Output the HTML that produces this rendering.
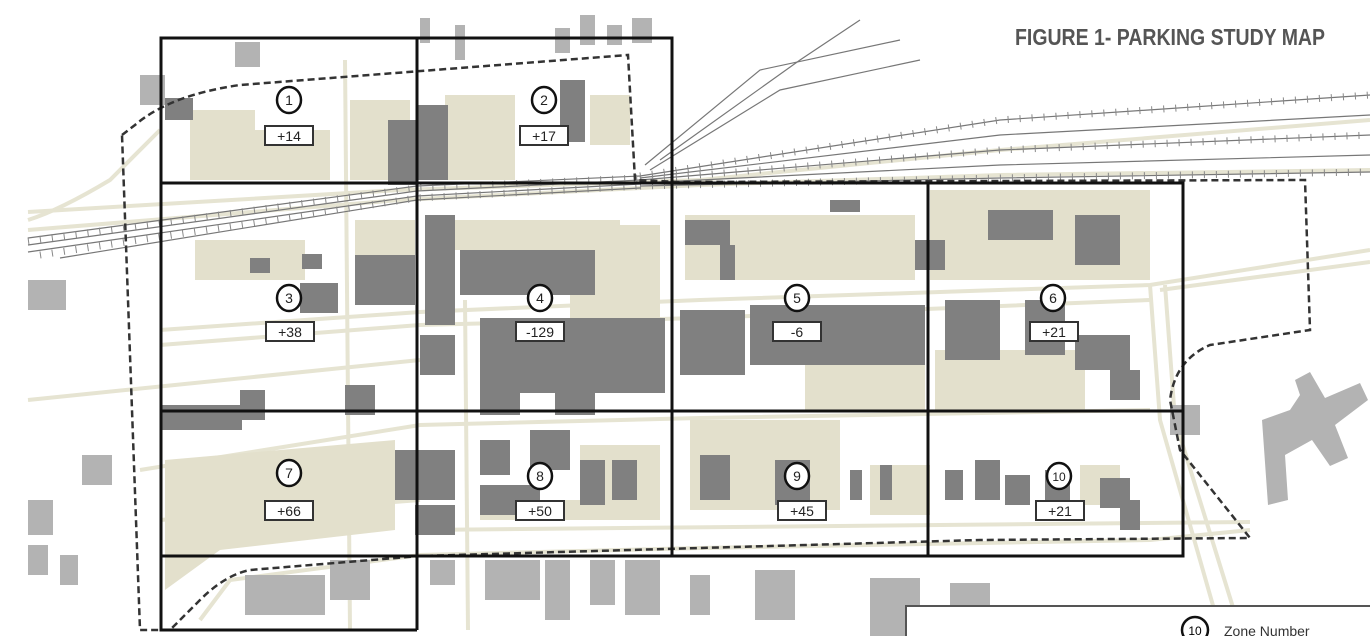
<!DOCTYPE html>
<html><head><meta charset="utf-8"><style>
html,body{margin:0;padding:0;background:#fff;width:1370px;height:636px;overflow:hidden}
svg{display:block}
text{font-family:"Liberation Sans",sans-serif}
</style></head><body>
<svg width="1370" height="636" viewBox="0 0 1370 636" xmlns="http://www.w3.org/2000/svg">
<rect width="1370" height="636" fill="#fff"/>
<!-- roads -->
<g stroke="#e6e4d2" stroke-width="4" fill="none">
<path d="M28 212 L400 190 L700 180 L1000 150 L1370 120"/>
<path d="M28 230 L400 200 L700 185 L1000 175 L1370 170"/>
<path d="M160 330 L420 312 L700 300 L1150 285 L1370 250"/>
<path d="M160 345 L420 325 L700 318 L1150 300"/>
<path d="M28 400 L420 360"/>
<path d="M140 470 L420 425 L700 418 L1150 410"/>
<path d="M160 520 L420 500"/>
<path d="M200 620 L230 580 L420 555 L700 548 L1150 540 L1250 530"/>
<path d="M420 530 L1250 522"/>
<path d="M1150 285 L1160 420 L1220 630"/>
<path d="M1165 285 L1175 420 L1240 630"/>
<path d="M345 60 L350 630"/>
<path d="M465 300 L468 630"/>
<path d="M1160 290 L1370 262"/>
<path d="M28 220 Q60 210 110 180 Q140 150 160 130"/>
</g>
<!-- rail lines -->
<g stroke="#777" stroke-width="1.2" fill="none">
<path d="M28 238 L417 186 L640 176"/>
<path d="M28 245 L417 191 L640 180"/>
<path d="M28 252 L417 196 L640 184"/>
<path d="M60 258 L417 200 L640 188"/>
<path d="M640 176 L1000 120 L1370 95"/>
<path d="M640 178 L1000 135 L1370 115"/>
<path d="M640 180 L1000 150 L1370 135"/>
<path d="M640 183 L1000 165 L1370 155"/>
<path d="M640 186 L1000 178 L1370 172"/>
<path d="M645 165 L760 70 L900 40"/>
<path d="M650 170 L780 90 L920 60"/>
<path d="M660 160 L800 60 L860 20"/>
</g>
<g stroke="#888" stroke-width="7" stroke-dasharray="1 11" fill="none">
<path d="M28 241 L417 188 L640 178"/>
<path d="M40 255 L417 198 L640 186"/>
<path d="M640 176 L1000 120 L1370 95"/>
<path d="M640 180 L1000 150 L1370 135"/>
<path d="M640 186 L1000 178 L1370 172"/>
</g>
<!-- beige lots -->
<g fill="#e3e0cc">
<rect x="190" y="110" width="65" height="70"/><rect x="255" y="130" width="75" height="50"/>
<rect x="350" y="100" width="60" height="80"/><rect x="445" y="95" width="70" height="85"/>
<rect x="590" y="95" width="40" height="50"/>
<rect x="195" y="240" width="110" height="40"/><rect x="355" y="220" width="60" height="60"/>
<rect x="455" y="220" width="165" height="30"/><rect x="570" y="225" width="90" height="95"/>
<rect x="685" y="215" width="230" height="65"/><rect x="805" y="360" width="120" height="50"/>
<rect x="930" y="190" width="220" height="90"/><rect x="935" y="350" width="150" height="60"/>
<path d="M165 460 L395 440 L395 530 L220 550 L165 590 Z"/>
<rect x="580" y="445" width="80" height="75"/><rect x="480" y="500" width="170" height="20"/>
<rect x="690" y="420" width="150" height="90"/><rect x="870" y="465" width="60" height="50"/>
<rect x="1080" y="465" width="40" height="40"/><rect x="505" y="345" width="40" height="45"/>
</g>
<!-- dark buildings -->
<g fill="#808080">
<rect x="165" y="98" width="28" height="22"/><rect x="388" y="120" width="30" height="65"/>
<rect x="418" y="105" width="30" height="75"/><rect x="560" y="80" width="25" height="62"/>
<rect x="250" y="258" width="20" height="15"/><rect x="302" y="254" width="20" height="15"/>
<rect x="300" y="283" width="38" height="30"/><rect x="355" y="255" width="60" height="50"/>
<rect x="425" y="215" width="30" height="110"/><rect x="460" y="250" width="135" height="45"/>
<rect x="480" y="318" width="185" height="75"/><rect x="480" y="390" width="40" height="25"/>
<rect x="555" y="390" width="40" height="25"/><rect x="420" y="335" width="35" height="40"/>
<rect x="685" y="220" width="45" height="25"/><rect x="720" y="245" width="15" height="35"/>
<rect x="830" y="200" width="30" height="12"/><rect x="915" y="240" width="30" height="30"/>
<rect x="680" y="310" width="65" height="65"/><rect x="750" y="305" width="175" height="60"/>
<rect x="988" y="210" width="65" height="30"/><rect x="1075" y="215" width="45" height="50"/>
<rect x="945" y="300" width="55" height="60"/><rect x="1025" y="300" width="40" height="55"/>
<rect x="1075" y="335" width="55" height="35"/><rect x="1110" y="370" width="30" height="30"/>
<rect x="162" y="405" width="80" height="25"/><rect x="240" y="390" width="25" height="30"/>
<rect x="345" y="385" width="30" height="30"/><rect x="395" y="450" width="60" height="50"/>
<rect x="415" y="505" width="40" height="30"/><rect x="480" y="440" width="30" height="35"/>
<rect x="530" y="430" width="40" height="40"/><rect x="480" y="485" width="60" height="30"/>
<rect x="580" y="460" width="25" height="45"/><rect x="612" y="460" width="25" height="40"/>
<rect x="700" y="455" width="30" height="45"/><rect x="775" y="460" width="35" height="45"/>
<rect x="850" y="470" width="12" height="30"/><rect x="880" y="465" width="12" height="35"/>
<rect x="945" y="470" width="18" height="30"/><rect x="975" y="460" width="25" height="40"/>
<rect x="1005" y="475" width="25" height="30"/><rect x="1045" y="470" width="25" height="30"/>
<rect x="1100" y="478" width="30" height="30"/><rect x="1120" y="500" width="20" height="30"/>
</g>
<!-- light gray buildings -->
<g fill="#b3b3b3">
<rect x="140" y="75" width="25" height="30"/><rect x="235" y="42" width="25" height="25"/>
<rect x="420" y="18" width="10" height="25"/><rect x="455" y="25" width="10" height="35"/>
<rect x="555" y="28" width="15" height="25"/><rect x="580" y="15" width="15" height="30"/>
<rect x="607" y="25" width="15" height="20"/><rect x="632" y="18" width="20" height="25"/>
<rect x="28" y="280" width="38" height="30"/><rect x="28" y="500" width="25" height="35"/>
<rect x="82" y="455" width="30" height="30"/><rect x="28" y="545" width="20" height="30"/>
<rect x="60" y="555" width="18" height="30"/><rect x="245" y="575" width="80" height="40"/>
<rect x="330" y="560" width="40" height="40"/><rect x="430" y="560" width="25" height="25"/>
<rect x="485" y="560" width="55" height="40"/><rect x="545" y="560" width="25" height="60"/>
<rect x="590" y="560" width="25" height="45"/><rect x="625" y="560" width="35" height="55"/>
<rect x="690" y="575" width="20" height="40"/><rect x="755" y="570" width="40" height="50"/>
<rect x="870" y="578" width="50" height="58"/><rect x="950" y="583" width="40" height="30"/>
<rect x="1170" y="405" width="30" height="30"/>
<path d="M1262 420 L1290 410 L1300 395 L1295 380 L1310 372 L1325 398 L1360 383 L1368 400 L1335 425 L1348 458 L1330 466 L1312 440 L1285 455 L1288 500 L1268 505 Z"/>
</g>
<!-- dashed study boundary -->
<path d="M122 135 L135 125 Q170 95 240 85 L628 55 L635 180 L680 182 L1305 180 L1310 330 L1210 345 Q1175 360 1170 400 L1180 450 L1250 538 L980 540 L420 556 L250 570 Q225 575 200 600 L170 630 L140 630 L122 135 Z" fill="none" stroke="#333" stroke-width="2.5" stroke-dasharray="7 4"/>
<!-- zone grid -->
<g stroke="#111" stroke-width="3" fill="none">
<rect x="161" y="38" width="511" height="145"/>
<line x1="417" y1="38" x2="417" y2="630"/>
<rect x="161" y="183" width="1022" height="228"/>
<line x1="672" y1="183" x2="672" y2="556"/>
<line x1="928" y1="183" x2="928" y2="556"/>
<rect x="161" y="411" width="1022" height="145"/>
<polyline points="161,411 161,630 417,630"/>
</g>
<!-- labels -->
<g font-size="14" text-anchor="middle" fill="#222">
<g stroke="#111" stroke-width="2.5" fill="#fff">
<ellipse cx="289" cy="100" rx="12" ry="13"/><ellipse cx="544" cy="100" rx="12" ry="13"/>
<ellipse cx="289" cy="298" rx="12" ry="13"/><ellipse cx="540" cy="298" rx="12" ry="13"/>
<ellipse cx="797" cy="298" rx="12" ry="13"/><ellipse cx="1053" cy="298" rx="12" ry="13"/>
<ellipse cx="289" cy="473" rx="12" ry="13"/><ellipse cx="540" cy="476" rx="12" ry="13"/>
<ellipse cx="797" cy="476" rx="12" ry="13"/><ellipse cx="1059" cy="476" rx="12" ry="13"/>
</g>
<g stroke="#333" stroke-width="2" fill="#fff">
<rect x="265" y="126" width="48" height="19"/><rect x="520" y="126" width="48" height="19"/>
<rect x="266" y="322" width="48" height="19"/><rect x="516" y="322" width="48" height="19"/>
<rect x="773" y="322" width="48" height="19"/><rect x="1030" y="322" width="48" height="19"/>
<rect x="265" y="501" width="48" height="19"/><rect x="516" y="501" width="48" height="19"/>
<rect x="778" y="501" width="48" height="19"/><rect x="1036" y="501" width="48" height="19"/>
</g>
<text x="289" y="105">1</text><text x="544" y="105">2</text><text x="289" y="303">3</text>
<text x="540" y="303">4</text><text x="797" y="303">5</text><text x="1053" y="303">6</text>
<text x="289" y="478">7</text><text x="540" y="481">8</text><text x="797" y="481">9</text>
<text x="1059" y="481" font-size="12">10</text>
<text x="289" y="141">+14</text><text x="544" y="141">+17</text><text x="290" y="337">+38</text>
<text x="540" y="337">-129</text><text x="797" y="337">-6</text><text x="1054" y="337">+21</text>
<text x="289" y="516">+66</text><text x="540" y="516">+50</text><text x="802" y="516">+45</text>
<text x="1060" y="516">+21</text>
</g>
<!-- title -->
<text x="1015" y="45" font-size="23" font-weight="bold" fill="#555" textLength="310" lengthAdjust="spacingAndGlyphs" style="font-family:'Liberation Sans Narrow','Liberation Sans',sans-serif">FIGURE 1- PARKING STUDY MAP</text>
<!-- legend -->
<rect x="906" y="606" width="470" height="40" fill="#fff" stroke="#555" stroke-width="2"/>
<ellipse cx="1195" cy="630" rx="13" ry="13" fill="#fff" stroke="#111" stroke-width="2.5"/>
<text x="1195" y="635" font-size="12" text-anchor="middle">10</text>
<text x="1224" y="636" font-size="14" fill="#333">Zone Number</text>
</svg>
</body></html>
